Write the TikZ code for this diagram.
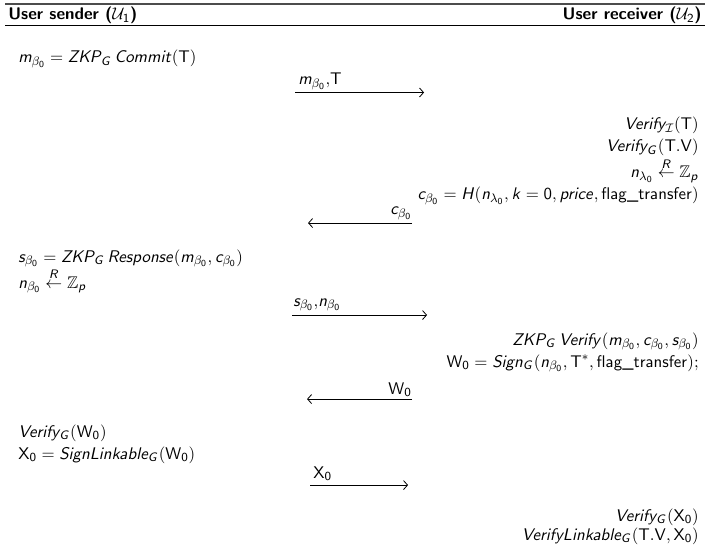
\documentclass[tikz,border=0pt]{standalone}
\usepackage{amsmath,amssymb}
\usetikzlibrary{arrows.meta}
\DeclareSymbolFont{sfletters}{OT1}{cmss}{m}{sl}
\DeclareSymbolFont{sfupright}{OT1}{cmss}{m}{n}
\newcommand\mysfl[1]{\DeclareMathSymbol{#1}{\mathalpha}{sfletters}{`#1}}
\newcommand\mysfd[1]{\DeclareMathSymbol{#1}{\mathalpha}{sfupright}{`#1}}
\mysfl a\mysfl b\mysfl c\mysfl d\mysfl e\mysfl f\mysfl g\mysfl h\mysfl i\mysfl j\mysfl k\mysfl l\mysfl m
\mysfl n\mysfl o\mysfl p\mysfl q\mysfl r\mysfl s\mysfl t\mysfl u\mysfl v\mysfl w\mysfl x\mysfl y\mysfl z
\mysfl A\mysfl B\mysfl C\mysfl D\mysfl E\mysfl F\mysfl G\mysfl H\mysfl I\mysfl J\mysfl K\mysfl L\mysfl M
\mysfl N\mysfl O\mysfl P\mysfl Q\mysfl R\mysfl S\mysfl T\mysfl U\mysfl V\mysfl W\mysfl X\mysfl Y\mysfl Z
\mysfd 0\mysfd 1\mysfd 2\mysfd 3\mysfd 4\mysfd 5\mysfd 6\mysfd 7\mysfd 8\mysfd 9
\DeclareMathAlphabet{\mathsfup}{OT1}{cmss}{m}{n}
\begin{document}
\tikzset{
  txt/.style={inner sep=0pt, font=\fontsize{10.95}{13.6}\selectfont\sffamily},
  msg/.style={-{Straight Barb[length=4pt,width=9pt]}, line width=0.8pt},
  rule/.style={line width=0.8pt}
}
\begin{tikzpicture}[x=0.649351pt,y=-0.649351pt,scale=1.54,every node/.append style={transform shape}]
\useasboundingbox (0,0) rectangle (711,545);
% header
\draw[rule, line width=1.4pt, black!70] (5,4) coordinate (tl) -- (705,4) coordinate (tr);
\draw[rule] (5,25) coordinate (bl) -- (705,25) coordinate (br);
\node[txt, anchor=base west] (hs) at (8,20) {\bfseries User sender ($\mathcal{U}_1$)};
\node[txt, anchor=base east] (hr) at (702,20) {\bfseries User receiver ($\mathcal{U}_2$)};
% step 1
\node[txt, anchor=base west] (l1) at (18,63) {$m_{\beta_0} = ZKP_G\,Commit(\mathsfup{T})$};
\node[txt, anchor=base west] (m1) at (298,85) {$m_{\beta_0}{,}\mathsfup{T}$};
\coordinate (a1s) at (295,92.5); \coordinate (a1e) at (424,92.5);
\draw[msg] (a1s) -- (a1e);
% step 2
\node[txt, anchor=base east] (r1) at (699,130) {$Verify_{\mathcal{I}}(\mathsfup{T})$};
\node[txt, anchor=base east] (r2) at (699,152) {$Verify_G(\mathsfup{T.V})$};
\node[txt, anchor=base east] (r3) at (699,178) {$n_{\lambda_0} \stackrel{R}{\leftarrow} \mathbb{Z}_p$};
\node[txt, anchor=base east] (r4) at (699,200) {$c_{\beta_0} = H(n_{\lambda_0}, k=0, price, \mathsfup{flag\_transfer})$};
\node[txt, anchor=base east] (m2) at (412,215) {$c_{\beta_0}$};
\coordinate (a2s) at (412,223); \coordinate (a2e) at (308,223);
\draw[msg] (a2s) -- (a2e);
% step 3
\node[txt, anchor=base west] (l2) at (18,262) {$s_{\beta_0} = ZKP_G\,Response(m_{\beta_0}, c_{\beta_0})$};
\node[txt, anchor=base west] (l3) at (18,288) {$n_{\beta_0} \stackrel{R}{\leftarrow} \mathbb{Z}_p$};
\node[txt, anchor=base west] (m3) at (293,306) {$s_{\beta_0}{,}n_{\beta_0}$};
\coordinate (a3s) at (292,315); \coordinate (a3e) at (427,315);
\draw[msg] (a3s) -- (a3e);
% step 4
\node[txt, anchor=base east] (r5) at (699,345) {$ZKP_G\,Verify(m_{\beta_0}, c_{\beta_0}, s_{\beta_0})$};
\node[txt, anchor=base east] (r6) at (699,367) {$\mathsfup{W}_0 = Sign_G(n_{\beta_0}, \mathsfup{T}^*, \mathsfup{flag\_transfer});$};
\node[txt, anchor=base east] (m4) at (412,394) {$\mathsfup{W}_0$};
\coordinate (a4s) at (412,399); \coordinate (a4e) at (307,399);
\draw[msg] (a4s) -- (a4e);
% step 5
\node[txt, anchor=base west] (l4) at (18,437) {$Verify_G(\mathsfup{W}_0)$};
\node[txt, anchor=base west] (l5) at (18,459) {$\mathsfup{X}_0 = SignLinkable_G(\mathsfup{W}_0)$};
\node[txt, anchor=base west] (m5) at (313,478) {$\mathsfup{X}_0$};
\coordinate (a5s) at (310,485); \coordinate (a5e) at (408,485);
\draw[msg] (a5s) -- (a5e);
% step 6
\node[txt, anchor=base east] (r7) at (699,521) {$Verify_G(\mathsfup{X}_0)$};
\node[txt, anchor=base east] (r8) at (699,540) {$VerifyLinkable_G(\mathsfup{T.V}, \mathsfup{X}_0)$};
\end{tikzpicture}
\end{document}
